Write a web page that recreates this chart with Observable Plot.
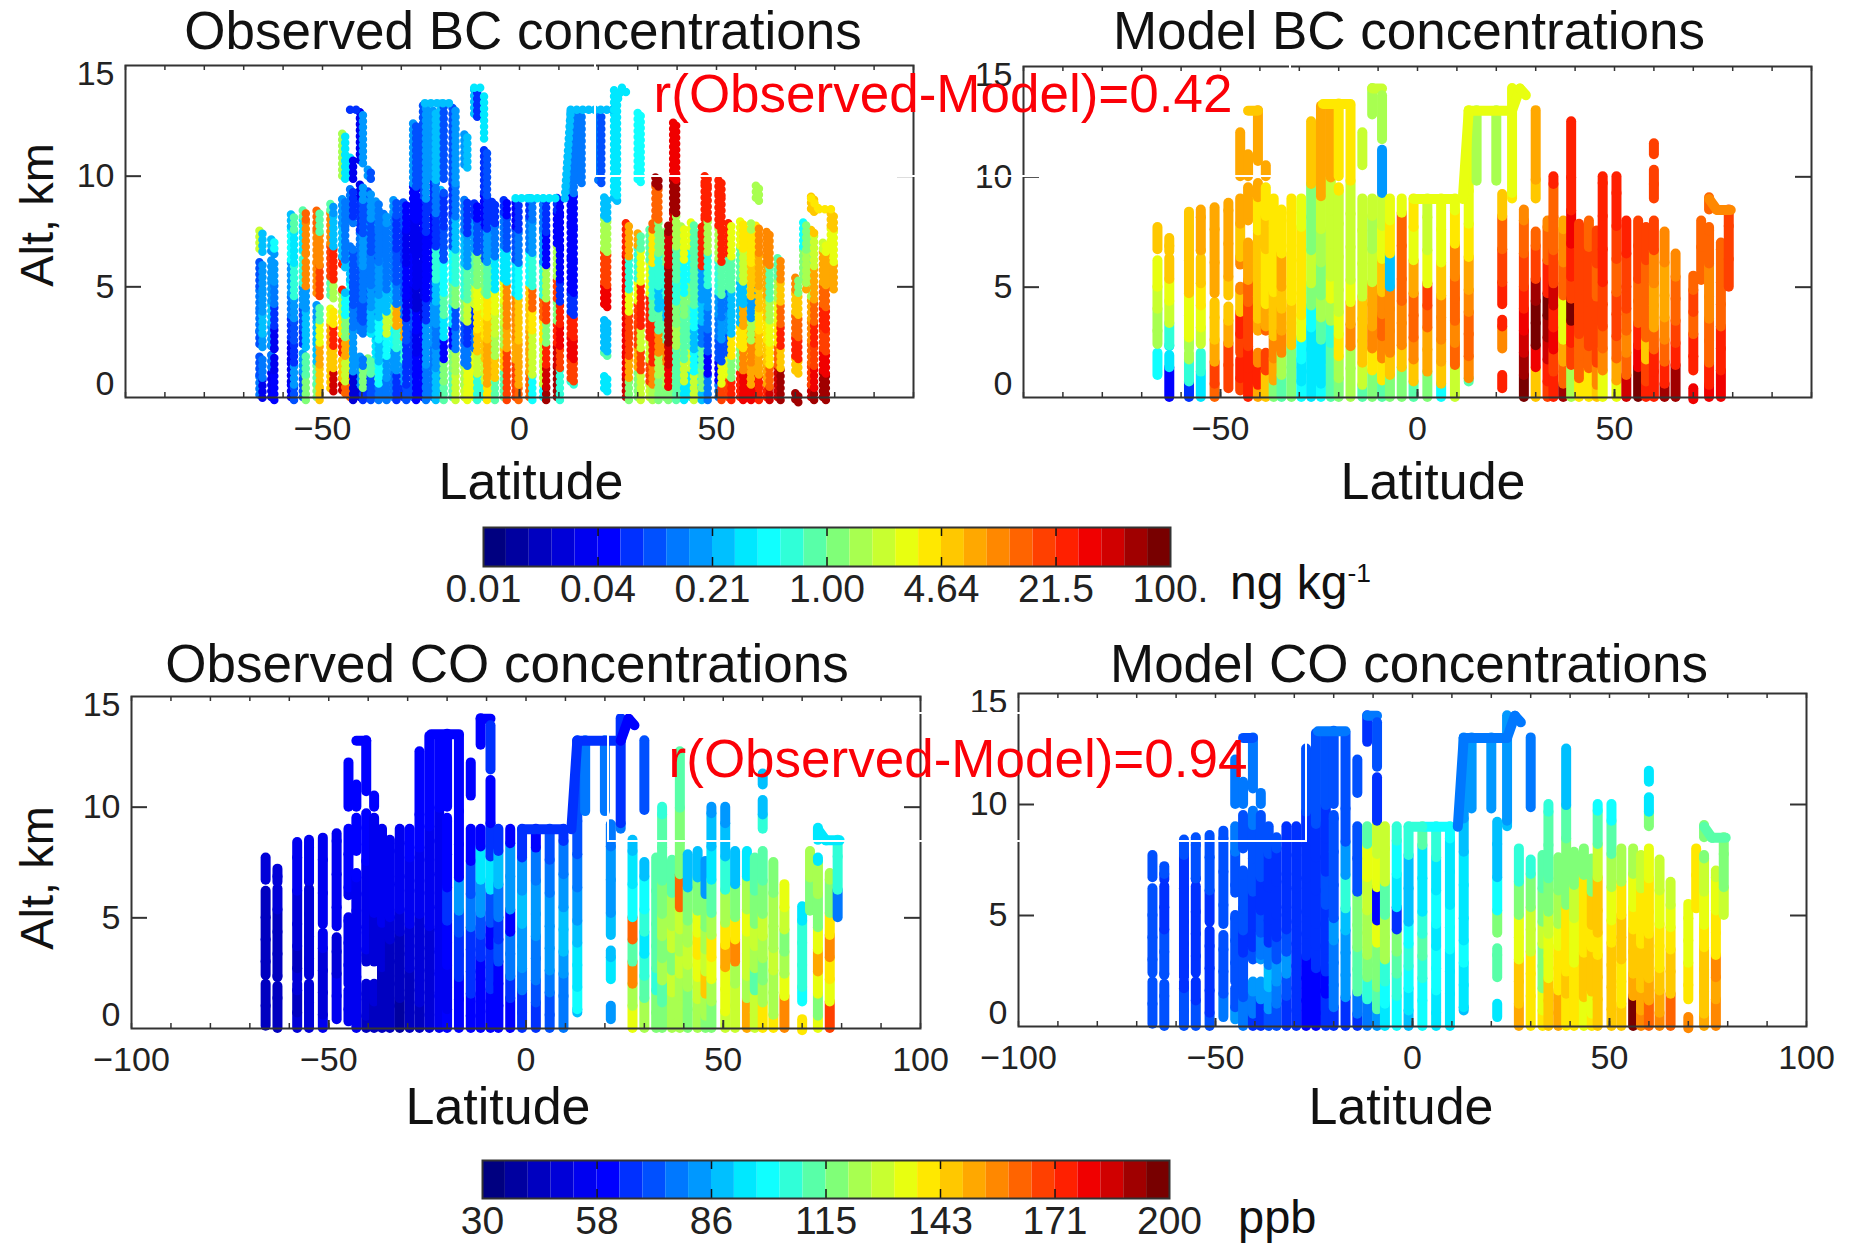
<!DOCTYPE html>
<html>
<head>
<meta charset="utf-8">
<script src="https://cdn.jsdelivr.net/npm/d3@7"></script>
<script src="https://cdn.jsdelivr.net/npm/@observablehq/plot@0.6"></script>
<style>
html,body{margin:0;padding:0;background:#fff}
#page{position:relative;width:1856px;height:1243px;overflow:hidden;font-family:"Liberation Sans",Arial,sans-serif}
#page>div.t{position:absolute;white-space:nowrap;line-height:1;color:#111}
#page>div.p{position:absolute}
#page svg{overflow:visible;max-width:none}
sup{font-size:.55em;line-height:0}
</style>
</head>
<body>
<div id="page"></div>
<script>
// colour-bar steps (30 steps, navy to maroon)
const jetSteps = ["#000080","#0000a0","#0000c0","#0000d8","#0000f0","#0000ff","#0030ff","#0050ff","#0078ff","#0098ff","#00c0ff","#00e8ff","#10ffff","#30ffd8","#58ffa8","#80ff78","#a8ff50","#c8ff30","#e8ff10","#ffe800","#ffc800","#ffa800","#ff8800","#ff6400","#ff4000","#ff2000","#f00000","#d00000","#a00000","#780000"];
const bcBarLabels = ["0.01","0.04","0.21","1.00","4.64","21.5","100."];
const coBarLabels = ["30","58","86","115","143","171","200"];

// altitude bands, km, used by the value rows below (step 0 = no reading)
const bandEdges = [0,1,2,3,4,5,6.5,8,9.5,14.3];
// small per-profile shifts of the band edges, km, so that the bands do not line up across profiles
const bandShifts = [0,0.35,-0.3,0.15,-0.4,0.45,-0.15,0.3,-0.45,0.2,-0.25];

// aircraft profiles: latitude and altitude spans, km
const trackLats = [-66,-63,-58,-55,-51.5,-48,-45,-43,-40.5,-38.5,-36.5,-34.5,-32,-29.5,-27,-24.5,-22,-20,-17,-14,-11.5,-9,-7,-4,-1,2.5,6,9.5,13,15,20,21.5,24,27,30,33,34.5,37,39,41,43.5,45.5,47,50.5,53,56,58,60,62.7,65.5,70,72,74,77,79];
const trackSpans = [
[[0.1,2],[2.4,6.2],[6.7,7.7]],[[0,1.9],[2.3,6.3],[6.6,7.2]],[[0,2],[2.2,8.4]],[[0,2],[2.4,6.3],[6.6,8.5]],[[0,4.3],[4.7,8.6]],
[[0.4,4.1],[4.6,8.8]],[[0.3,1.7],[2,5],[6,9],[10,12]],[[0,7],[8,9.5],[10,11]],[[0,2],[3,9.7],[10.7,13]],[[0,2],[3,9.5],[10,10.5]],
[[0,9]],[[0,8.5]],[[0,9]],[[0,9]],[[0,12.5]],[[0,13.2]],[[0,13.2]],[[0,9.5],[10,13.3]],[[0,13.2]],[[0,9],[10.5,12]],
[[0,9],[12.8,14]],[[0,11.2]],[[0,9]],[[0,9]],[[0,9]],[[0,9]],[[0,9]],[[0,9]],[[0.7,13]],[[9.5,13]],
[[9.8,13]],[[0.4,1],[2,3.5],[4.2,9.2]],[[9,14]],[[0,8.5]],[[0,7.5],[9,13]],[[0,8]],[[0,10]],[[0,8]],[[0,12.5]],[[0,8]],
[[0,8]],[[0,8]],[[0,10]],[[0,10]],[[0,8]],[[0,8]],[[0,8]],[[0,8],[9,10.3],[11,11.5]],[[0,7.5]],[[0,6.5]],
[[-0.1,0.4],[1.2,5.5]],[[5,8]],[[0,7.7],[8.5,9.3]],[[0,7]],[[5,8.5]]
];
// flight legs that do not follow a band: lat1, alt1, lat2, alt2
const legs = [[13,13,24,13],[-24,13.3,-17,13.3],[-11.5,14,-9,14],[24,13,26,14],[26,14,27.5,13.7],[3,9,9.5,9],[74,9,76,8.5],[76,8.5,79.5,8.5],[-43,13,-40.5,13],[11.5,9,13,13],[-1,9,2.5,9],[-9,11.7,-9,13.7]];
const legStepBcObserved = [10,10,11,11,11,11,19,19,6,10,11,11];
const legStepBcModel = [18,19,17,18,18,18,22,22,20,18,18,16];
const legStepCoObserved = [6,5,5,5,5,6,11,11,5,6,6,6];
const legStepCoModel = [8,8,8,8,8,12,14,14,7,8,13,7];

// colour-bar step per band (rows follow trackLats)
const bcObserved = [
[8,7,7,8,8,7,17,7,7],[4,8,9,10,9,9,10,7,7],[5,4,4,6,8,9,12,10,7],[7,9,6,7,9,13,11,14,7],[15,14,10,10,9,22,22,23,7],
[20,20,21,18,14,24,22,14,17],[27,20,25,19,16,25,10,9,16],[23,17,21,15,12,10,8,8,11],[3,9,9,8,7,7,8,6,4],[6,15,8,8,7,8,9,7,9],
[7,14,11,10,9,8,7,9,7],[8,12,10,12,10,9,8,8,7],[8,9,12,17,10,8,8,9,7],[6,9,13,21,8,7,6,7,7],[7,6,6,7,4,5,4,5,9],
[5,5,4,5,3,4,4,5,7],[8,8,9,9,6,5,5,6,9],[10,9,8,9,10,13,6,8,10],[14,15,5,11,14,12,7,6,7],[17,16,8,7,15,13,10,8,9],
[18,18,8,6,17,14,9,6,10],[13,17,20,19,18,15,7,5,6],[19,21,21,20,19,14,9,6,7],[14,20,16,17,18,11,8,6,7],[24,24,21,22,22,11,7,5,7],
[23,21,21,20,20,12,8,6,7],[12,17,17,19,23,13,9,8,7],[28,27,25,15,24,16,5,6,5],[13,24,26,25,6,5,5,5,9],[0,0,0,0,0,0,0,0,8],
[0,0,0,0,0,0,0,0,8],[11,14,10,10,26,24,16,10,7],[0,0,0,0,0,0,0,10,11],[27,26,26,26,26,26,25,0,0],[15,21,24,24,18,13,21,0,12],
[17,24,17,25,25,18,14,0,0],[16,22,25,25,14,13,19,23,28],[15,16,22,14,10,13,15,0,0],[15,26,27,28,28,28,27,28,26],[14,14,16,15,13,14,16,0,0],
[11,17,14,14,15,12,18,0,0],[17,12,10,12,14,14,14,0,0],[10,15,14,8,10,9,25,25,25],[8,5,7,8,9,13,16,25,25],[24,18,7,9,8,14,25,0,0],
[25,15,19,10,10,14,18,0,0],[26,22,19,21,10,17,19,0,0],[26,21,22,16,9,20,19,16,0],[25,21,20,19,20,21,22,0,0],[27,23,19,18,16,14,0,0,0],
[28,20,25,23,20,22,0,0,0],[0,0,0,0,0,15,12,0,0],[27,24,23,22,21,16,15,20,0],[28,26,24,25,23,21,17,0,0],[0,0,0,0,0,21,18,20,0]
];
const bcModel = [
[0,12,16,16,17,18,20,20,0],[5,11,13,17,18,20,20,0,0],[6,13,16,18,18,20,20,20,0],[11,13,17,18,19,20,21,21,0],[23,24,21,20,20,21,21,21,0],
[24,24,21,20,20,21,21,21,21],[24,25,24,25,20,22,20,21,21],[25,25,24,24,23,21,21,21,21],[21,25,22,21,20,20,20,19,21],[20,24,23,21,19,19,20,19,21],
[15,21,22,20,20,19,19,19,0],[14,16,22,21,20,21,19,19,0],[15,15,20,20,19,19,19,19,0],[12,11,12,18,19,19,19,18,0],[11,11,11,12,15,17,15,15,20],
[12,11,11,14,16,15,16,17,21],[14,14,13,16,18,17,17,17,21],[15,16,19,18,17,17,17,17,19],[16,16,22,21,18,17,17,17,19],[14,17,20,20,20,17,17,17,17],
[15,19,22,21,21,17,16,17,16],[14,19,22,23,22,20,18,17,9],[15,20,22,22,22,10,19,18,17],[15,20,22,22,23,23,23,18,17],[14,20,22,23,23,21,18,19,17],
[15,21,21,23,24,18,17,17,17],[12,20,21,22,22,20,18,18,17],[17,23,22,23,23,22,19,18,18],[14,22,23,23,22,21,19,18,18],[0,0,0,0,0,0,0,0,16],
[0,0,0,0,0,0,0,0,16],[25,0,22,25,25,24,23,20,18],[0,0,0,0,0,0,0,19,18],[29,28,27,26,25,24,23,22,22],[20,26,29,29,28,24,23,20,21],
[24,25,27,28,29,25,23,22,0],[25,24,26,25,27,24,23,23,25],[28,23,21,18,18,23,22,21,0],[16,24,25,29,24,25,26,25,25],[19,23,23,24,24,24,24,0,0],
[19,23,24,24,24,24,23,0,0],[20,22,24,24,24,23,24,0,0],[18,22,23,24,24,25,25,25,25],[18,21,23,24,24,23,24,25,25],[27,23,22,23,24,24,25,0,0],
[29,26,25,23,23,24,24,0,0],[25,24,20,23,23,23,24,0,0],[25,25,23,21,21,22,24,24,24],[28,25,23,22,21,21,22,0,0],[28,25,24,23,23,22,0,0,0],
[26,25,25,23,24,23,0,0,0],[0,0,0,0,0,23,23,0,0],[26,25,23,23,22,22,23,23,0],[26,25,25,23,23,23,23,0,0],[0,0,0,0,0,24,24,24,0]
];
const coObserved = [
[2,2,2,2,2,2,3,0,0],[2,2,2,2,2,3,3,0,0],[3,2,3,2,3,3,4,4,0],[3,3,3,3,3,3,4,4,0],[4,3,3,3,4,4,4,4,0],
[4,4,3,3,4,4,4,4,0],[4,4,4,4,4,4,5,5,5],[4,4,4,4,4,4,5,5,5],[2,3,3,3,4,4,4,5,5],[2,3,3,3,3,4,4,4,5],
[2,2,2,3,3,4,4,4,5],[2,2,2,2,3,4,4,4,5],[1,2,2,2,3,4,4,4,5],[2,2,2,3,3,4,4,5,5],[2,3,3,3,3,4,4,5,5],
[3,3,3,3,3,4,4,4,5],[4,4,4,4,4,4,4,4,5],[5,4,4,5,5,6,5,5,5],[5,5,6,6,7,9,5,5,5],[5,5,6,6,6,8,7,5,5],
[5,5,5,6,7,9,11,5,5],[5,5,6,6,5,7,11,6,5],[5,5,5,7,6,8,10,6,5],[5,6,8,8,5,9,9,5,5],[6,6,8,9,9,10,9,6,5],
[6,7,8,8,9,9,8,5,5],[7,7,8,9,9,9,8,7,6],[8,8,9,10,10,9,8,6,6],[10,12,11,11,10,9,8,7,7],[0,0,0,0,0,0,0,0,8],
[0,0,0,0,0,0,0,0,8],[9,0,11,10,10,9,9,8,0],[0,0,0,0,0,0,0,8,6],[18,16,22,14,23,12,11,10,0],[16,14,13,11,13,12,10,0,7],
[15,15,13,14,14,14,14,0,0],[15,14,16,15,16,15,14,14,13],[16,16,17,15,17,16,14,0,0],[16,16,17,16,17,23,15,15,14],[15,15,16,17,16,15,10,0,0],
[16,17,18,19,18,15,10,0,0],[15,16,20,17,16,15,9,0,0],[15,16,18,19,16,14,11,10,9],[17,18,18,21,19,16,13,10,9],[17,17,16,22,19,15,10,0,0],
[21,16,17,17,18,16,11,0,0],[17,17,14,16,17,15,14,0,0],[19,16,15,16,17,15,14,13,10],[19,16,16,17,16,16,15,0,0],[22,18,16,15,17,18,0,0,0],
[19,12,13,13,13,11,0,0,0],[0,0,0,0,0,15,16,0,0],[18,15,18,21,18,15,16,11,0],[24,18,19,22,19,15,16,0,0],[0,0,0,0,0,8,13,13,0]
];
const coModel = [
[7,7,7,7,7,7,7,0,0],[7,7,7,7,6,6,7,0,0],[7,7,6,6,6,6,6,7,0],[7,6,6,6,6,6,7,7,0],[7,6,6,6,6,6,7,7,0],
[8,7,7,7,7,7,7,7,0],[9,7,7,7,7,7,7,8,8],[8,7,7,6,7,7,7,7,8],[6,8,9,7,6,6,7,7,8],[6,9,9,8,7,6,7,7,8],
[7,9,10,8,6,6,6,7,0],[7,8,9,7,6,6,6,7,0],[6,7,9,7,6,6,6,6,0],[6,6,6,6,6,6,6,6,0],[5,5,5,6,6,6,6,6,7],
[5,5,5,6,6,6,6,6,7],[6,5,6,6,6,7,6,6,7],[6,8,8,8,9,7,7,7,7],[6,9,9,9,10,13,9,7,7],[6,8,14,14,15,15,7,7,7],
[8,13,15,16,16,17,18,14,6],[9,14,15,15,18,5,18,17,6],[11,12,13,16,16,14,17,17,0],[12,13,14,15,6,11,12,13,0],[10,11,12,13,12,10,10,13,0],
[12,12,13,14,13,11,11,14,0],[11,11,12,12,11,12,11,13,0],[11,11,11,12,12,11,11,12,0],[10,11,11,12,11,11,11,10,9],[0,0,0,0,0,0,0,0,9],
[0,0,0,0,0,0,0,0,9],[11,0,14,14,15,12,10,10,0],[0,0,0,0,0,0,0,10,9],[21,20,20,18,18,15,13,0,0],[19,19,19,17,17,15,13,0,8],
[19,18,15,15,17,15,14,0,0],[20,20,18,18,17,15,14,14,13],[21,21,19,19,18,16,15,0,0],[19,20,19,19,19,15,15,14,10],[19,19,19,18,18,17,15,0,0],
[18,20,20,19,19,19,15,0,0],[19,18,20,20,19,20,15,0,0],[20,20,20,19,20,20,17,14,12],[20,20,20,20,19,18,16,14,12],[20,19,19,20,20,19,16,0,0],
[29,21,20,20,19,18,16,0,0],[22,21,20,20,19,19,17,0,0],[23,21,20,20,19,19,18,15,11],[22,21,20,19,19,18,17,0,0],[23,20,20,19,18,17,0,0,0],
[22,19,19,18,18,18,0,0,0],[0,0,0,0,0,19,19,0,0],[21,20,20,20,19,18,17,15,0],[22,21,22,19,19,18,17,0,0],[0,0,0,0,0,17,15,15,0]
];

const page = document.getElementById("page");
const font = '"Liberation Sans",Arial,sans-serif';
const inkColor = "#222";

function segments(rows,neighbour=0){
  const out=[];
  trackLats.forEach((lat,i)=>{
    const row = rows[Math.min(i+neighbour,rows.length-1)], own = rows[i];
    const shift = bandShifts[i%bandShifts.length];
    trackSpans[i].forEach(([lo,hi])=>{
      for(let b=0;b<bandEdges.length-1;b++){
        const e0 = b===0?-1:bandEdges[b]+shift, e1 = b===bandEdges.length-2?bandEdges[b+1]:bandEdges[b+1]+shift;
        const a=Math.max(lo,e0), z=Math.min(hi,e1);
        const step = row[b]>0 ? row[b] : own[b];
        if(z>a && step>0) out.push({lat,lo:a,hi:z,step});
      }
    });
  });
  return out;
}
const colorScale = {type:"ordinal",domain:d3.range(30),range:jetSteps};
const ml=130,mr=40,mt=20,mb=80;
function panel({left,right,top,bottom,rows,legSteps,dots,xLabels}){
  const w=right-left,h=bottom-top;
  const sw = dots ? 8.5 : 10;
  const dash = dots ? {strokeDasharray:"0 6"} : {};
  const legRows = legs.map((l,i)=>({x1:l[0],y1:l[1],x2:l[2],y2:l[3],step:legSteps[i]}));
  const minor=d3.range(-100,101,10), major=[-50,0,50];
  const line = {x:"lat",y1:"lo",y2:"hi",stroke:"step",strokeWidth:sw,strokeLinecap:"round",...dash};
  const chart = Plot.plot({
    width:w+ml+mr,height:h+mt+mb,marginLeft:ml,marginRight:mr,marginTop:mt,marginBottom:mb,
    style:{background:"transparent",overflow:"visible",fontFamily:font},
    x:{domain:[-100,100],axis:null},
    y:{domain:[0,15],axis:null},
    color:colorScale,
    marks:[
      Plot.ruleX(segments(rows),line),
      dots ? Plot.ruleX(segments(rows,1),{...line,dx:3,dy:3}) : null,
      Plot.link(legRows,{x1:"x1",y1:"y1",x2:"x2",y2:"y2",stroke:"step",strokeWidth:sw,strokeLinecap:"round",...dash}),
      Plot.frame({stroke:"#333",strokeWidth:2}),
      Plot.tickX(minor,{x:d=>d,insetBottom:h-5,stroke:"#333",strokeWidth:1.5}),
      Plot.tickX(minor,{x:d=>d,insetTop:h-5,stroke:"#333",strokeWidth:1.5}),
      Plot.tickX(major,{x:d=>d,insetTop:h-8,stroke:"#333",strokeWidth:2}),
      Plot.tickY([5,10],{y:d=>d,insetRight:w-16,stroke:"#333",strokeWidth:2}),
      Plot.tickY([5,10],{y:d=>d,insetLeft:w-16,stroke:"#333",strokeWidth:2}),
      Plot.axisX({ticks:xLabels,tickSize:0,tickPadding:18,fontSize:34,fill:inkColor,label:null}),
      Plot.axisY({ticks:[5,10],tickSize:0,tickPadding:11,fontSize:34,fill:inkColor,label:null}),
      Plot.text([15],{y:d=>d,frameAnchor:"left",text:d=>String(d),textAnchor:"end",dx:-11,dy:9,fontSize:34,fill:inkColor}),
      Plot.text([0],{y:d=>d,frameAnchor:"left",text:d=>String(d),textAnchor:"end",dx:-11,dy:-13,fontSize:34,fill:inkColor})
    ]
  });
  place(chart,left-ml,top-mt);
}
function colorBar({left,right,top,bottom,labels}){
  const w=right-left,h=bottom-top,pad=60,below=60;
  const edges=d3.range(0,31,5);
  const chart = Plot.plot({
    width:w+2*pad,height:h+below+4,marginLeft:pad,marginRight:pad,marginTop:2,marginBottom:below+2,
    style:{background:"transparent",overflow:"visible",fontFamily:font},
    x:{domain:[0,30],axis:null},
    y:{domain:[0,1],axis:null},
    color:colorScale,
    marks:[
      Plot.rect(d3.range(30),{x1:d=>d,x2:d=>d+1,y1:0,y2:1,fill:d=>d}),
      Plot.tickX(edges.slice(1,-1),{x:d=>d,insetBottom:h-9,stroke:"#111",strokeWidth:1.5}),
      Plot.tickX(edges.slice(1,-1),{x:d=>d,insetTop:h-9,stroke:"#111",strokeWidth:1.5}),
      Plot.frame({stroke:"#333",strokeWidth:2}),
      Plot.axisX({ticks:edges,tickFormat:d=>labels[d/5],tickSize:0,tickPadding:8,fontSize:39,fill:inkColor,label:null})
    ]
  });
  place(chart,left-pad,top-2);
}
function place(node,x,y){
  const d=document.createElement("div");
  d.className="p";d.style.left=x+"px";d.style.top=y+"px";
  d.appendChild(node);page.appendChild(d);
}
function text(str,x,baseline,size,{color="#111",anchor="middle",rotate=0,html=false}={}){
  const d=document.createElement("div");
  d.className="t";
  d.style.fontSize=size+"px";d.style.color=color;
  d.style.left=x+"px";d.style.top=(baseline-0.8465*size)+"px";
  const tx=anchor==="middle"?"-50%":"0";
  d.style.transform=rotate?`translate(-50%,-50%) rotate(${rotate}deg)`:`translateX(${tx})`;
  if(rotate) d.style.top=baseline+"px";
  if(html) d.innerHTML=str; else d.textContent=str;
  page.appendChild(d);
}
function noteBox(x1,y1,x2,y2){
  const d=document.createElement("div");
  d.className="p";
  Object.assign(d.style,{left:x1+"px",top:y1+"px",width:(x2-x1)+"px",height:(y2-y1)+"px",border:"2px solid #fff",boxSizing:"border-box"});
  page.appendChild(d);
}

panel({left:125,right:913,top:65,bottom:397,rows:bcObserved,legSteps:legStepBcObserved,dots:true,xLabels:[-50,0,50]});
panel({left:1023,right:1811,top:66,bottom:397,rows:bcModel,legSteps:legStepBcModel,dots:false,xLabels:[-50,0,50]});
panel({left:131,right:920,top:696,bottom:1028,rows:coObserved,legSteps:legStepCoObserved,dots:false,xLabels:[-100,-50,0,50,100]});
panel({left:1018,right:1806,top:693,bottom:1026,rows:coModel,legSteps:legStepCoModel,dots:false,xLabels:[-100,-50,0,50,100]});
colorBar({left:483,right:1170,top:527,bottom:566,labels:bcBarLabels});
colorBar({left:482,right:1169,top:1160,bottom:1198,labels:coBarLabels});

noteBox(594,58,1291,177);
noteBox(607,712,1307,842);

text("Observed BC concentrations",523,49,53);
text("Model BC concentrations",1409,49,53);
text("Observed CO concentrations",507,682,53);
text("Model CO concentrations",1409,682,53);
text("Latitude",531,499,52);
text("Latitude",1433,499,52);
text("Latitude",498,1124,52);
text("Latitude",1401,1124,52);
text("Alt, km",36,215,47,{rotate:-90});
text("Alt, km",36,878,47,{rotate:-90});
text("r(Observed-Model)=0.42",943,112,53,{color:"#fb0007"});
text("r(Observed-Model)=0.94",958,777,53,{color:"#fb0007"});
text("ng kg<sup>-1</sup>",1230,600,48,{anchor:"start",html:true});
text("ppb",1238,1233,47,{anchor:"start"});
</script>
</body>
</html>
